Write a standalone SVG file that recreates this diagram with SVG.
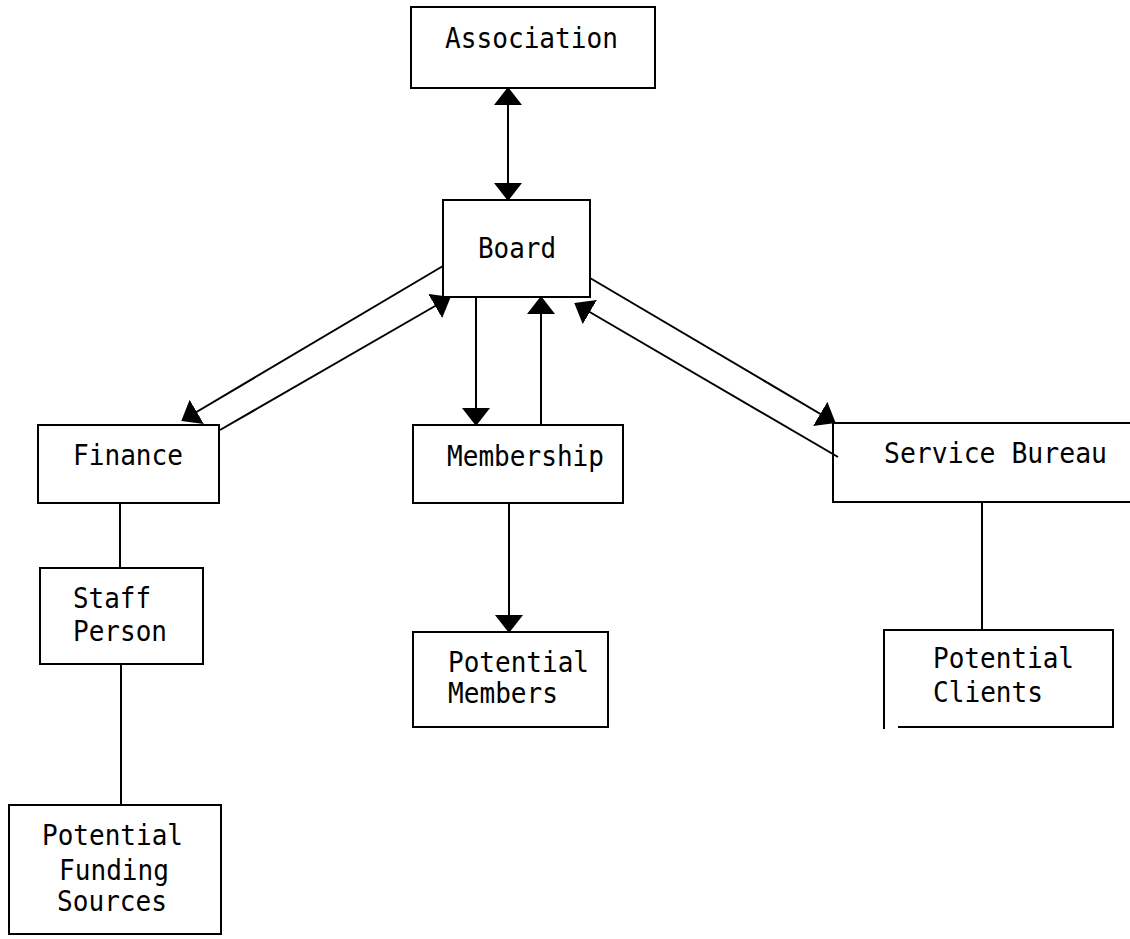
<svg xmlns="http://www.w3.org/2000/svg" width="1130" height="939" viewBox="0 0 1130 939">
<style>
.box{fill:none;stroke:#000;stroke-width:2}
.lbl{font-family:"DejaVu Sans Mono","Liberation Mono",monospace;font-size:29px;fill:#000}
.con{fill:none;stroke:#000;stroke-width:2}
.arr{marker-end:url(#ah)}
</style>
<defs>
<marker id="ah" markerUnits="userSpaceOnUse" markerWidth="18" markerHeight="28" viewBox="0 0 18 28" refX="16" refY="14" orient="auto-start-reverse">
<path d="M0,0 L18,14 L0,28 z" fill="#000"/>
</marker>
</defs>
<rect width="1130" height="939" fill="#fff"/>
<g id="connectors">
<line class="con" x1="508" y1="89" x2="508" y2="199" marker-start="url(#ah)" marker-end="url(#ah)"/>
<line class="con arr" x1="443" y1="266" x2="183" y2="420"/>
<line class="con arr" x1="220" y1="430" x2="449" y2="298"/>
<line class="con arr" x1="476" y1="297" x2="476" y2="424"/>
<line class="con arr" x1="541" y1="424" x2="541" y2="298"/>
<line class="con arr" x1="590" y1="278" x2="834" y2="422"/>
<line class="con arr" x1="838" y1="457" x2="576" y2="304"/>
<line class="con arr" x1="509" y1="503" x2="509" y2="631"/>
<line class="con" x1="120" y1="503" x2="120" y2="568"/>
<line class="con" x1="121" y1="665" x2="121" y2="805"/>
<line class="con" x1="982" y1="502" x2="982" y2="630"/>
</g>
<g id="association">
<rect class="box" x="411" y="7" width="244" height="81"/>
<text class="lbl" x="445" y="48" textLength="173" lengthAdjust="spacingAndGlyphs">Association</text>
</g>
<g id="board">
<rect class="box" x="443" y="200" width="147" height="97"/>
<text class="lbl" x="478" y="258" textLength="78" lengthAdjust="spacingAndGlyphs">Board</text>
</g>
<g id="finance">
<rect class="box" x="38" y="425" width="181" height="78"/>
<text class="lbl" x="73" y="465" textLength="110" lengthAdjust="spacingAndGlyphs">Finance</text>
</g>
<g id="membership">
<rect class="box" x="413" y="425" width="210" height="78"/>
<text class="lbl" x="447" y="466" textLength="157" lengthAdjust="spacingAndGlyphs">Membership</text>
</g>
<g id="service-bureau">
<path class="box" d="M1135,423 H833 V502 H1135"/>
<text class="lbl" x="884" y="463" textLength="223" lengthAdjust="spacingAndGlyphs">Service Bureau</text>
</g>
<g id="staff-person">
<rect class="box" x="40" y="568" width="163" height="96"/>
<text class="lbl" x="73" y="608" textLength="78" lengthAdjust="spacingAndGlyphs">Staff</text>
<text class="lbl" x="73" y="641" textLength="94" lengthAdjust="spacingAndGlyphs">Person</text>
</g>
<g id="potential-funding-sources">
<rect class="box" x="9" y="805" width="212" height="129"/>
<text class="lbl" x="42" y="845" textLength="141" lengthAdjust="spacingAndGlyphs">Potential</text>
<text class="lbl" x="59" y="880" textLength="110" lengthAdjust="spacingAndGlyphs">Funding</text>
<text class="lbl" x="57" y="911" textLength="110" lengthAdjust="spacingAndGlyphs">Sources</text>
</g>
<g id="potential-members">
<rect class="box" x="413" y="632" width="195" height="95"/>
<text class="lbl" x="448" y="672" textLength="141" lengthAdjust="spacingAndGlyphs">Potential</text>
<text class="lbl" x="448" y="703" textLength="110" lengthAdjust="spacingAndGlyphs">Members</text>
</g>
<g id="potential-clients">
<path class="box" d="M884,729 V630 H1113 V728 M1113,727 H898"/>
<text class="lbl" x="933" y="668" textLength="141" lengthAdjust="spacingAndGlyphs">Potential</text>
<text class="lbl" x="933" y="702" textLength="110" lengthAdjust="spacingAndGlyphs">Clients</text>
</g>
</svg>
